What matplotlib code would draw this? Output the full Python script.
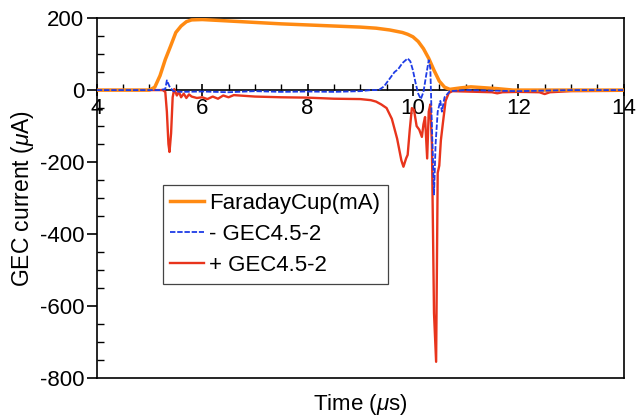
import matplotlib
matplotlib.use("Agg")
import matplotlib.pyplot as plt
from matplotlib.ticker import MultipleLocator

plt.rcParams['font.family'] = ['Liberation Sans', 'DejaVu Sans']
plt.rcParams['mathtext.fontset'] = 'custom'
plt.rcParams['mathtext.rm'] = 'Liberation Sans'
plt.rcParams['mathtext.it'] = 'Liberation Sans:italic'
plt.rcParams['axes.unicode_minus'] = False

# ─────────────────────────────────────────
# DATA
# ─────────────────────────────────────────
fc_t = [4.0, 5.0, 5.1, 5.2, 5.3, 5.4, 5.5, 5.6, 5.7, 5.8, 6.0, 6.5, 7.0, 7.5, 8.0,
        8.5, 9.0, 9.3, 9.56, 9.8, 9.9, 10.0, 10.1, 10.2, 10.3, 10.4, 10.5, 10.6,
        10.7, 10.9, 11.1, 11.3, 11.6, 11.9, 14.0]
fc_v = [0, 0, 8, 40, 85, 122, 160, 178, 190, 195, 196, 192, 188, 184, 181,
        178, 175, 172, 167, 160, 155, 148, 135, 115, 88, 55, 25, 8,
        2, 6, 9, 7, 4, 0, 0]

neg_t = [4.0, 5.2, 5.3, 5.33, 5.38, 5.45, 5.6, 6.0, 6.5, 7.0, 7.5, 8.0, 8.5, 9.0,
         9.2, 9.35, 9.45, 9.55, 9.65, 9.72, 9.8, 9.9, 9.95, 10.0, 10.05, 10.1,
         10.15, 10.2, 10.25, 10.3, 10.33, 10.36, 10.4, 10.43, 10.47, 10.52,
         10.55, 10.6, 10.7, 11.0, 12.0, 13.0, 14.0]
neg_v = [0, 0, 3, 27, 10, -3, -5, -4, -6, -3, -5, -4, -5, -3,
         0, 0, 10, 30, 50, 58, 75, 88, 80, 55, 20, -10,
         -25, -5, 40, 83, 60, -100, -290, -150, -60, -30,
         -60, -20, -3, 0, -3, 0, 0]

pos_t = [4.0, 5.25, 5.3, 5.33, 5.36, 5.38, 5.41, 5.44, 5.47, 5.52, 5.56, 5.6,
         5.65, 5.7, 5.75, 5.8, 5.9, 6.0, 6.1, 6.2, 6.3, 6.4, 6.5, 6.6, 6.8,
         7.0, 7.5, 8.0, 8.5, 9.0, 9.2, 9.3, 9.4, 9.5, 9.6, 9.7, 9.78, 9.82,
         9.87, 9.9, 9.94, 9.98, 10.02, 10.07, 10.12, 10.17, 10.2, 10.23, 10.27,
         10.3, 10.33, 10.36, 10.4, 10.44, 10.47, 10.5, 10.53, 10.57, 10.62,
         10.68, 10.75, 11.0, 11.5, 11.6, 11.7, 12.0, 12.4, 12.5, 12.6, 13.0, 14.0]
pos_v = [0, 0, -5, -60, -150, -172, -120, -20, 3, -15, -5, -20,
         -10, -22, -12, -18, -22, -20, -25, -18, -24, -15, -20, -14, -16,
         -18, -20, -21, -24, -25, -28, -32, -40, -50, -80, -135, -195, -213,
         -190, -180, -110, -50, -55, -100, -110, -130, -95, -75, -190,
         -60, -40, -150, -620, -755, -230, -210, -140, -90, -30,
         -8, -3, -4, -6, -9, -6, -5, -6, -11, -6, -3, -2]

# ─────────────────────────────────────────
# PLOT
# ─────────────────────────────────────────
fig = plt.figure(figsize=(6.41, 4.18), dpi=100)
ax = fig.add_axes([0.151, 0.0957, 0.822, 0.861])

ax.plot(fc_t, fc_v, color='#FF8A12', lw=2.5, label='FaradayCup(mA)', zorder=3)
ax.plot(neg_t, neg_v, color='#1E3CE6', lw=1.3, ls=(0, (3, 1)), label='- GEC4.5-2', zorder=4)
ax.plot(pos_t, pos_v, color='#E8341C', lw=1.7, label='+ GEC4.5-2', zorder=2)

ax.set_xlim(4, 14)
ax.set_ylim(-800, 200)

# x axis drawn through zero, box kept around the plot
ax.spines['bottom'].set_position(('data', 0))
ax.spines['bottom'].set_zorder(1)
ax.plot([0, 1], [0, 0], transform=ax.transAxes, color='black', lw=1.2, clip_on=False)
for s in ax.spines.values():
    s.set_linewidth(1.2)

ax.xaxis.set_major_locator(MultipleLocator(2))
ax.xaxis.set_minor_locator(MultipleLocator(0.5))
ax.yaxis.set_major_locator(MultipleLocator(200))
ax.yaxis.set_minor_locator(MultipleLocator(50))

ax.tick_params(axis='x', which='major', direction='inout', length=9, width=1.2,
               labelsize=16, pad=1)
ax.tick_params(axis='x', which='minor', direction='in', length=4, width=1)
ax.tick_params(axis='y', which='major', direction='out', length=7, width=1.2,
               labelsize=16, pad=2)
ax.tick_params(axis='y', which='minor', direction='in', length=5, width=1)

ax.set_ylabel(r'GEC current ($\mu$A)', fontsize=16.5)
ax.yaxis.set_label_coords(-0.115, 0.5)
ax.set_xlabel(r'Time ($\mu$s)', fontsize=16)
ax.xaxis.set_label_coords(0.5, -0.038)

leg = ax.legend(loc='upper left', bbox_to_anchor=(0.125, 0.536), borderaxespad=0,
                fontsize=16, handlelength=1.5, handletextpad=0.25, labelspacing=0.45,
                fancybox=False, framealpha=1, edgecolor='#444444', borderpad=0.35)
leg.get_frame().set_linewidth(0.9)

fig.savefig('out.png', dpi=100)
